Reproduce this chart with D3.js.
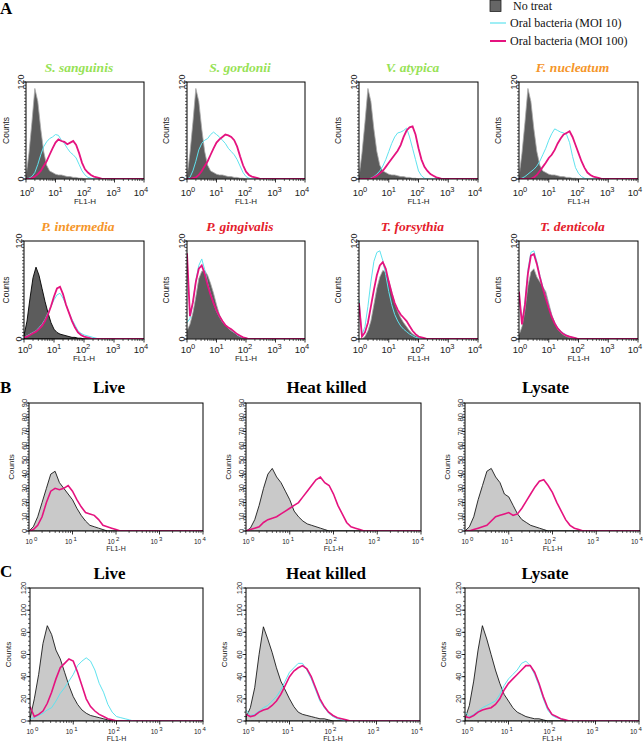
<!DOCTYPE html>
<html><head><meta charset="utf-8">
<script src="https://cdn.jsdelivr.net/npm/d3@7"></script>
<style>body{margin:0;background:#fff}svg{display:block}</style>
</head><body>
<svg id="fig" width="644" height="741"></svg>
<script>
// ---------- DATA ----------
// Each histogram: counts in bins at FL1-H = 10^(i * BIN_DECADES), i = 0,1,2,...
const BIN_DECADES = 0.1;
const xTickExponents = [0, 1, 2, 3, 4];
const legendLabels = ["No treat", "Oral bacteria (MOI 10)", "Oral bacteria (MOI 100)"];

// Panel A
const aTitles = ["S. sanguinis", "S. gordonii", "V. atypica", "F. nucleatum",
                 "P. intermedia", "P. gingivalis", "T. forsythia", "T. denticola"];
const aTitleGroups = ["early", "early", "early", "bridge", "bridge", "red", "red", "red"];
const aYTicks = [0, 120];

const aNoTreatRow1 = [3,32,70,112,96,62,34,17,10,8,6,5,5,4,3,3,2,2,1,1,0];
const aNoTreatPi = [4,22,50,75,88,78,62,46,32,20,12,8,6,5,4,3,2,2,1,1,0];
const aNoTreatPg = [10,18,32,52,74,83,84,78,68,56,42,30,22,17,13,10,8,5,3,2,1,0];
const aNoTreatTf = [0,0,3,10,22,42,62,76,84,82,72,58,44,34,26,20,15,10,6,4,2,1,0];
const aNoTreatTd = [5,15,35,65,82,86,76,70,64,58,44,30,20,12,8,5,3,2,1,0];
const aNoTreat = [aNoTreatRow1, aNoTreatRow1, aNoTreatRow1, aNoTreatRow1,
                  aNoTreatPi, aNoTreatPg, aNoTreatTf, aNoTreatTd];

const aMoi10 = [
  [0,1,3,8,18,30,40,46,50,52,55,54,48,44,38,33,30,26,18,10,5,2,1,0],
  [0,2,10,22,36,44,48,50,55,58,55,52,48,44,38,34,30,24,16,8,3,1,0],
  [0,0,0,0,1,3,6,10,16,24,34,44,52,57,58,60,63,52,38,24,10,4,1,0],
  [0,1,3,6,9,12,16,22,30,38,48,56,62,60,58,57,55,45,28,14,7,3,1,0],
  [2,4,6,8,10,14,18,24,32,40,48,54,56,50,42,32,24,17,10,7,5,4,3,2,1,0],
  [20,25,45,72,90,98,85,68,55,44,34,27,21,17,14,11,8,5,3,2,1,0],
  [48,5,15,40,70,95,106,108,96,78,58,42,30,22,16,12,9,6,4,2,1,0],
  [55,20,45,85,106,108,95,78,64,52,40,28,20,14,10,7,5,3,2,1,0]
];
const aMoi100 = [
  [0,0,1,3,6,10,16,22,30,38,45,49,47,46,43,45,47,42,32,20,12,8,5,3,2,1,0],
  [0,0,1,2,5,10,16,22,30,38,45,49,52,55,54,52,48,40,28,17,9,5,3,2,1,0],
  [0,0,0,0,0,2,4,7,10,15,20,25,30,35,42,52,60,64,65,55,38,24,15,10,6,4,2,1,0],
  [0,0,0,0,0,2,5,10,15,20,26,30,36,44,50,55,57,59,52,42,32,22,14,8,5,3,2,1,0],
  [2,3,5,7,9,12,16,22,30,40,52,62,64,55,42,32,22,14,8,5,3,2,1,0],
  [105,28,45,70,86,90,80,66,54,44,35,28,22,17,14,12,9,6,4,2,1,0],
  [44,3,8,20,40,60,78,90,94,86,70,56,44,36,30,26,22,16,10,6,3,2,1,0],
  [58,18,42,80,102,104,92,76,62,50,38,27,19,13,9,6,4,3,2,1,0]
];

// Panel B
const bTitles = ["Live", "Heat killed", "Lysate"];
const bYTicks = [0, 10, 20, 30, 40, 50, 60, 70, 80, 90];
const bNoTreat = [
  [0,3,10,20,30,40,42,34,30,26,22,16,11,7,4,3,2,1,0],
  [0,2,8,18,30,40,44,38,34,28,22,14,10,7,5,4,3,2,1,0],
  [0,3,10,22,32,42,44,38,34,26,24,18,12,8,6,4,3,2,1,0]
];
const bTreated = [
  [0,1,4,10,20,28,30,29,30,32,28,22,17,13,12,11,8,4,3,2,1,0],
  [0,1,2,3,6,8,9,10,12,14,16,18,20,24,28,32,36,38,34,32,26,18,12,6,3,2,1,0],
  [0,0,1,2,3,4,7,10,11,12,13,11,12,16,21,26,31,35,36,32,27,20,14,8,4,2,1,0]
];

// Panel C
const cTitles = ["Live", "Heat killed", "Lysate"];
const cYTicks = [0, 20, 40, 60, 80, 100, 120];
const cNoTreat = [
  [2,20,42,70,86,78,64,56,44,32,22,15,10,7,5,4,3,2,1,0],
  [3,12,30,60,85,74,62,48,36,28,20,13,8,6,5,4,3,2,2,1,0],
  [2,14,36,64,86,74,60,46,34,24,18,12,8,6,4,3,2,2,1,0]
];
const cMoi10 = [
  [2,3,5,7,10,12,18,25,30,36,42,50,54,57,54,46,34,26,15,8,4,3,2,1,0],
  [10,5,6,9,12,14,18,22,28,36,44,48,52,52,46,38,28,18,12,7,4,2,1,0],
  [8,4,6,9,12,14,16,18,24,32,38,42,46,52,54,50,42,32,20,10,5,3,2,1,0]
];
const cMoi100 = [
  [13,4,6,9,16,26,38,48,52,56,54,44,32,20,13,9,6,4,2,1,0],
  [6,4,5,8,10,11,14,18,24,32,40,45,48,50,47,40,30,20,13,8,5,3,2,1,0],
  [4,3,5,8,10,11,12,15,20,28,34,38,42,46,50,50,44,34,22,12,6,4,2,1,0]
];

// ---------- STYLE / LAYOUT ----------
const COL_CYAN = "#5fe3ef";
const COL_MAG = "#e5137f";
const titleColor = d3.scaleOrdinal().domain(["early", "bridge", "red"])
  .range(["#97e255", "#f5962a", "#e4202c"]);
const SANS = "'Liberation Sans', Arial, sans-serif";
const SERIF = "'Liberation Serif', 'Times New Roman', serif";
const aXLabelShift = [-1, -2, -3, -3, -5];
const bcXLabelShift = [0, -4, -5, -5.5, -5.5];

const svg = d3.select("#fig");
let clipCount = 0;

function toPoints(counts) {
  const pts = counts.map((c, i) => ({ v: Math.pow(10, i * BIN_DECADES), c }));
  pts.push({ v: 1e4, c: 0 });
  return pts;
}

function drawPanel(o) {
  const x = d3.scaleLog().domain([1, 1e4]).range([o.x0, o.x1]);
  const y = d3.scaleLinear().domain([0, o.yMax]).range([o.y1, o.y0]);
  const g = svg.append("g");
  const cid = "clip" + (clipCount++);
  g.append("clipPath").attr("id", cid).append("rect")
    .attr("x", o.x0).attr("y", o.y0).attr("width", o.x1 - o.x0).attr("height", o.y1 - o.y0);
  const plot = g.append("g").attr("clip-path", `url(#${cid})`);

  const area = d3.area().x(d => x(d.v)).y0(y(0)).y1(d => y(d.c));
  const line = d3.line().x(d => x(d.v)).y(d => y(d.c));

  if (o.noTreat) {
    plot.append("path").datum(toPoints(o.noTreat)).attr("d", area)
      .attr("fill", o.grayFill).attr("stroke", o.grayStroke).attr("stroke-width", o.grayStrokeW);
  }
  if (o.moi10) {
    plot.append("path").datum(toPoints(o.moi10)).attr("d", line)
      .attr("fill", "none").attr("stroke", COL_CYAN).attr("stroke-width", o.cyanW);
  }
  if (o.moi100) {
    plot.append("path").datum(toPoints(o.moi100)).attr("d", line)
      .attr("fill", "none").attr("stroke", COL_MAG).attr("stroke-width", o.magW);
  }

  // frame
  g.append("rect").attr("x", o.x0).attr("y", o.y0).attr("width", o.x1 - o.x0).attr("height", o.y1 - o.y0)
    .attr("fill", "none").attr("stroke", "#000").attr("stroke-width", 1);

  // y ticks
  const yMinor = d3.range(0, o.yMax + 0.001, o.yMinorStep);
  g.selectAll(null).data(yMinor).enter().append("line")
    .attr("x1", o.x0).attr("x2", o.x0 - 2).attr("y1", d => y(d)).attr("y2", d => y(d))
    .attr("stroke", "#000").attr("stroke-width", 0.6);
  g.selectAll(null).data(o.yTicks).enter().append("line")
    .attr("x1", o.x0).attr("x2", o.x0 - 3.5).attr("y1", d => y(d)).attr("y2", d => y(d))
    .attr("stroke", "#000").attr("stroke-width", 0.8);
  g.selectAll(null).data(o.yTicks).enter().append("text")
    .attr("transform", d => `translate(${o.x0 - o.yLabelOff},${y(d)}) rotate(-90)`)
    .attr("text-anchor", "middle").attr("dominant-baseline", "central")
    .attr("font-family", SANS).attr("font-size", o.yLabelSize)
    .attr("fill", "#222").text(d => d);
  g.append("text")
    .attr("transform", `translate(${Math.max(6, o.x0 - o.countsOff)},${(o.y0 + o.y1) / 2}) rotate(-90)`)
    .attr("text-anchor", "middle").attr("dominant-baseline", "central")
    .attr("font-family", SANS).attr("font-size", o.countsSize)
    .attr("fill", "#222").text("Counts");

  // x ticks (log minor + major)
  const minor = [];
  xTickExponents.slice(0, -1).forEach(e => { for (let k = 2; k <= 9; k++) minor.push(k * Math.pow(10, e)); });
  g.selectAll(null).data(minor).enter().append("line")
    .attr("x1", d => x(d)).attr("x2", d => x(d)).attr("y1", o.y1).attr("y2", o.y1 + 2)
    .attr("stroke", "#000").attr("stroke-width", 0.6);
  g.selectAll(null).data(xTickExponents).enter().append("line")
    .attr("x1", d => x(Math.pow(10, d))).attr("x2", d => x(Math.pow(10, d)))
    .attr("y1", o.y1).attr("y2", o.y1 + 3.5).attr("stroke", "#000").attr("stroke-width", 0.8);
  const lab = g.selectAll(null).data(xTickExponents).enter().append("g")
    .attr("transform", (d, i) => `translate(${x(Math.pow(10, d)) + o.xLabelShift[i]},${o.xLabelY})`);
  lab.append("text").attr("text-anchor", "middle").attr("font-family", SANS)
    .attr("font-size", o.xLabelSize).attr("fill", "#222").text("10");
  lab.append("text").attr("x", o.supGap).attr("y", -o.supRaise).attr("font-family", SANS)
    .attr("font-size", o.supSize).attr("fill", "#222").text(d => d);
  g.append("text").attr("x", (o.x0 + o.x1) / 2).attr("y", o.fl1Y).attr("text-anchor", "middle")
    .attr("font-family", SANS).attr("font-size", o.fl1Size).attr("fill", "#222").text("FL1-H");

  if (o.title) {
    const t = g.append("text").attr("x", (o.x0 + o.x1) / 2 + o.titleDx).attr("y", o.titleY)
      .attr("text-anchor", "middle").attr("font-family", SERIF).attr("font-weight", "bold")
      .attr("font-size", o.titleSize).attr("fill", o.titleColor).text(o.title);
    if (o.titleItalic) t.attr("font-style", "italic");
  }
}

// ---------- PANEL A ----------
const aBoxesX = [[26, 144], [187, 305], [359, 478], [519, 638]];
const aRowsY = [[82, 179, 196, 204, 72], [241, 339, 353, 361, 231]];
aTitles.forEach((title, i) => {
  const row = Math.floor(i / 4), col = i % 4;
  const [y0, y1, xLabelY, fl1Y, titleY] = aRowsY[row];
  drawPanel({
    x0: aBoxesX[col][0] - (i === 4 ? 2 : 0), x1: aBoxesX[col][1], y0, y1, yMax: 120,
    yTicks: aYTicks, yMinorStep: 4, yLabelOff: 5, yLabelSize: 9, countsOff: 21, countsSize: 8.5,
    xLabelY, xLabelSize: 9.5, supSize: 7.5, supGap: 5, supRaise: 4, fl1Y, fl1Size: 8,
    xLabelShift: aXLabelShift,
    noTreat: aNoTreat[i], moi10: aMoi10[i], moi100: aMoi100[i],
    grayFill: "#5c5c5c", grayStroke: i === 4 ? "#000" : "#a8a8a8", grayStrokeW: i === 4 ? 0.9 : 0.8,
    cyanW: 1, magW: 1.8,
    title, titleItalic: true, titleSize: 13.5, titleY, titleDx: -6, titleColor: titleColor(aTitleGroups[i])
  });
});

// legend
const lg = svg.append("g");
lg.append("rect").attr("x", 490).attr("y", 0.5).attr("width", 11).attr("height", 11)
  .attr("fill", "#666").attr("stroke", "#222").attr("stroke-width", 0.8);
lg.append("line").attr("x1", 490).attr("x2", 506).attr("y1", 23).attr("y2", 23)
  .attr("stroke", COL_CYAN).attr("stroke-width", 1.2);
lg.append("line").attr("x1", 490).attr("x2", 506).attr("y1", 41).attr("y2", 41)
  .attr("stroke", COL_MAG).attr("stroke-width", 2);
lg.selectAll(null).data(legendLabels).enter().append("text")
  .attr("x", (d, i) => i === 0 ? 513 : 510).attr("y", (d, i) => [10, 27, 45][i])
  .attr("font-family", SERIF).attr("font-size", 12).attr("fill", "#111").text(d => d);

// panel letters
[["A", 14], ["B", 393], ["C", 577]].forEach(([l, yy]) => {
  svg.append("text").attr("x", 0).attr("y", yy).attr("font-family", SERIF).attr("font-weight", "bold")
    .attr("font-size", 17).attr("fill", "#000").text(l);
});

// ---------- PANEL B ----------
const bBoxesX = [[29, 203], [246, 421], [465, 640]];
bTitles.forEach((title, i) => {
  drawPanel({
    x0: bBoxesX[i][0], x1: bBoxesX[i][1], y0: 403, y1: 531, yMax: 90,
    yTicks: bYTicks, yMinorStep: 2, yLabelOff: 5, yLabelSize: 7.5, countsOff: 18, countsSize: 8,
    xLabelY: 543.5, xLabelSize: 6.5, supSize: 6, supGap: 5, supRaise: 3, fl1Y: 550.5, fl1Size: 7,
    xLabelShift: bcXLabelShift,
    noTreat: bNoTreat[i], moi100: bTreated[i],
    grayFill: "#c9c9c9", grayStroke: "#000", grayStrokeW: 0.8, cyanW: 1, magW: 1.6,
    title, titleItalic: false, titleSize: 17, titleY: 393, titleDx: -7, titleColor: "#000"
  });
});

// ---------- PANEL C ----------
const cBoxesX = [[30, 203], [246, 420], [465, 639]];
cTitles.forEach((title, i) => {
  drawPanel({
    x0: cBoxesX[i][0], x1: cBoxesX[i][1], y0: 588, y1: 721, yMax: 120,
    yTicks: cYTicks, yMinorStep: 4, yLabelOff: 6.5, yLabelSize: 7.5, countsOff: 21.5, countsSize: 8,
    xLabelY: 733.5, xLabelSize: 6.5, supSize: 6, supGap: 5, supRaise: 3, fl1Y: 740.5, fl1Size: 7,
    xLabelShift: bcXLabelShift,
    noTreat: cNoTreat[i], moi10: cMoi10[i], moi100: cMoi100[i],
    grayFill: "#c9c9c9", grayStroke: "#000", grayStrokeW: 0.8, cyanW: 1, magW: 1.6,
    title, titleItalic: false, titleSize: 17, titleY: 579, titleDx: -7, titleColor: "#000"
  });
});
</script>
</body></html>
